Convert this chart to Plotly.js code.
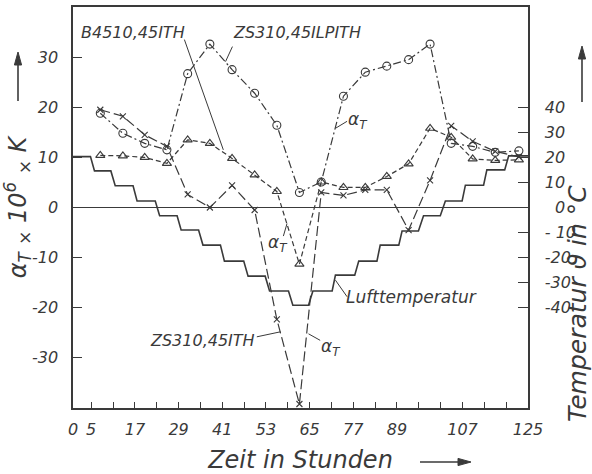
<!DOCTYPE html>
<html><head><meta charset="utf-8">
<script src="https://cdn.plot.ly/plotly-3.0.1.min.js"></script>
<style>html,body{margin:0;padding:0;background:#fff}#chart{width:592px;height:474px}</style>
</head><body><div id="chart"></div>
<script>
// Measurement times (hours)
const hours = [7.5, 13.7, 19.7, 25.8, 31.5, 37.6, 43.7, 49.9, 56.0, 62.2, 68.2, 74.3, 80.3, 86.2, 92.2, 98.1, 103.9, 109.8, 116.0, 122.5];
// alpha_T x 10^6 x K for the three specimens
const alphaZS310LPITH = [18.8, 14.8, 12.8, 11.5, 26.7, 32.6, 27.5, 22.8, 16.4, 3.0, 5.1, 22.2, 27.0, 28.2, 29.5, 32.6, 12.8, 12.2, 11.0, 11.3];
const alphaZS310ITH   = [19.5, 18.2, 14.5, 12.2, 2.6, 0.0, 4.4, -0.5, -22.3, -39.2, 3.0, 2.4, 3.5, 3.5, -4.5, 5.4, 16.3, 13.2, 11.2, 10.1];
const alphaB4510ITH   = [10.4, 10.3, 10.0, 8.8, 13.5, 12.8, 9.8, 6.5, 3.2, -11.3, 5.1, 4.0, 4.0, 6.2, 8.7, 15.8, 14.0, 9.7, 9.4, 9.5];
// Air temperature (deg C), held constant between start and end hour of each step
const airStart = [0, 5.9, 11.6, 17.6, 23.8, 29.7, 35.7, 41.6, 48.1, 54.0, 60.4, 65.9, 72.1, 78.5, 84.4, 90.4, 96.3, 102.3, 107.8, 113.7, 119.7];
const airEnd   = [4.8, 10.4, 16.5, 22.6, 28.6, 34.5, 40.5, 46.9, 52.8, 59.2, 64.7, 71.2, 77.4, 83.5, 89.5, 94.9, 100.9, 106.9, 112.8, 118.6, 125];
const airTemp  = [20.3, 14.6, 8.7, 2.6, -3.3, -9.0, -15.0, -21.4, -27.4, -33.3, -39.0, -33.3, -27.0, -21.4, -15.0, -9.4, -3.3, 2.6, 8.9, 15.0, 20.6];
// Tick labels
const xTickVals = [0, 5, 17, 29, 41, 53, 65, 77, 89, 107, 125];
const xTickText = ['0', '5', '17', '29', '41', '53', '65', '77', '89', '107', '125'];
const yTickVals = [-30, -20, -10, 0, 10, 20, 30];
const yTickText = ['-30', '-20', '-10', '0', '10', '20', '30'];
const y2TickVals = [-40, -30, -20, -10, 0, 10, 20, 30, 40];
const y2TickText = ['-40', '-30', '-20', '- 10', '\u20070', '10', '20', '30', '40'];

const INK = '#3a3a3a';
const FONT = 'DejaVu Sans';

const stepX = [], stepY = [];
airStart.forEach((s, i) => { stepX.push(s, airEnd[i]); stepY.push(airTemp[i], airTemp[i]); });

const traces = [
  {x: stepX, y: stepY, yaxis: 'y2', mode: 'lines', name: 'Lufttemperatur', line: {color: INK, width: 1.6}},
  {x: hours, y: alphaZS310LPITH, mode: 'lines+markers', name: 'ZS310,45ILPITH',
   line: {color: INK, width: 1.2, dash: '8px,3px,2px,3px'},
   marker: {symbol: 'circle-open', size: 8, color: INK, line: {width: 1.1, color: INK}}},
  {x: hours, y: alphaZS310ITH, mode: 'lines+markers', name: 'ZS310,45ITH',
   line: {color: INK, width: 1.2, dash: '10px,4px'},
   marker: {symbol: 'x-thin-open', size: 6, color: INK, line: {width: 1.1, color: INK}}},
  {x: hours, y: alphaB4510ITH, mode: 'lines+markers', name: 'B4510,45ITH',
   line: {color: INK, width: 1.2, dash: '5px,3px'},
   marker: {symbol: 'triangle-up-open', size: 8, color: INK, line: {width: 1.1, color: INK}}}
];

// plot area in pixels
const L = 73, R = 528, T = 7, B = 408;
const px = v => (v - L) / (R - L);
const py = v => (B - v) / (B - T);

const lab = (text, x, y, size) => ({text, x, y, xref: 'x', yref: 'y', showarrow: false,
  font: {family: FONT, size: size || 16, color: INK, style: 'italic'}});
const leader = (x0, y0, x1, y1) => ({type: 'line', xref: 'x', yref: 'y', x0, y0, x1, y1, line: {color: INK, width: 1}});
// arrow drawn from tail (x0,y0) to head (x1,y1), pixel positions
function arrowShapes(x0, y0, x1, y1) {
  const len = Math.hypot(x1 - x0, y1 - y0), ux = (x1 - x0) / len, uy = (y1 - y0) / len;
  const hl = 13, hw = 3.6;
  const bx = x1 - ux * hl, by = y1 - uy * hl;
  const p1 = [bx - uy * hw, by + ux * hw], p2 = [bx + uy * hw, by - ux * hw];
  return [
    {type: 'line', xref: 'paper', yref: 'paper', x0: px(x0), y0: py(y0), x1: px(bx), y1: py(by), line: {color: INK, width: 1.6}},
    {type: 'path', xref: 'paper', yref: 'paper', fillcolor: INK, line: {color: INK, width: 1},
     path: `M ${px(x1)} ${py(y1)} L ${px(p1[0])} ${py(p1[1])} L ${px(p2[0])} ${py(p2[1])} Z`}
  ];
}

const layout = {
  width: 592, height: 474, margin: {l: L, r: 592 - R, t: T, b: 474 - B},
  paper_bgcolor: '#fff', plot_bgcolor: '#fff', showlegend: false,
  font: {family: FONT, color: INK, style: 'italic'},
  xaxis: {range: [0, 125], tickmode: 'array', tickvals: xTickVals, ticktext: xTickText,
    ticks: 'inside', ticklen: 6, tickwidth: 1, tickcolor: INK,
    minor: {tickmode: 'linear', tick0: 5, dtick: 6, ticks: 'inside', ticklen: 6, tickwidth: 1, tickcolor: INK, showgrid: false},
    showline: true, mirror: true, linecolor: INK, linewidth: 1.6, showgrid: false, zeroline: false, ticklabelstandoff: 6,
    tickfont: {family: FONT, size: 16, color: INK, style: 'italic'},
    title: {text: 'Zeit in Stunden', standoff: 13, font: {family: FONT, size: 24, color: INK, style: 'italic'}}},
  yaxis: {range: [-40, 40], tickmode: 'array', tickvals: yTickVals, ticktext: yTickText,
    ticks: 'inside', ticklen: 9, tickwidth: 1, tickcolor: INK,
    showline: true, mirror: true, linecolor: INK, linewidth: 1.6,
    showgrid: false, zeroline: true, zerolinecolor: INK, zerolinewidth: 1.6, ticklabelstandoff: 10,
    tickfont: {family: FONT, size: 16, color: INK, style: 'italic'},
    title: {text: 'α<sub>T</sub> <sub>×</sub> 10<sup>6</sup> <sub>×</sub> K', standoff: 6, font: {family: FONT, size: 24, color: INK, style: 'italic'}}},
  yaxis2: {range: [-80, 80], overlaying: 'y', side: 'right', tickmode: 'array', tickvals: y2TickVals, ticktext: y2TickText,
    ticks: 'inside', ticklen: 10, tickwidth: 1, tickcolor: INK,
    showline: true, linecolor: INK, linewidth: 1.6, showgrid: false, zeroline: false, ticklabelstandoff: 12,
    tickfont: {family: FONT, size: 16, color: INK, style: 'italic'}},
  annotations: [
    lab('B4510,45ITH', 16.6, 34.9, 16), lab('ZS310,45ILPITH', 61.6, 34.9, 16),
    lab('α<sub>T</sub>', 78.3, 17.3, 17), lab('α<sub>T</sub>', 56.2, -7.2, 17),
    lab('Lufttemperatur', 93.1, -17.8, 17), lab('ZS310,45ITH', 35.7, -26.5, 16),
    lab('α<sub>T</sub>', 70.9, -28.0, 17),
    {text: 'Temperatur ϑ in °C', x: px(577), y: py(304), xref: 'paper', yref: 'paper', textangle: -90,
     xanchor: 'center', yanchor: 'middle', showarrow: false, font: {family: FONT, size: 25, color: INK, style: 'italic'}}
  ],
  shapes: [
    leader(30.6, 33.5, 41.3, 11.5), leader(43.8, 32.1, 41.9, 29.1), leader(75.3, 17.2, 72.1, 15.8),
    leader(57.8, -5.7, 58.8, -3.2), leader(75.3, -17.8, 72.1, -14.5), leader(50.5, -25.8, 57.0, -24.8),
    leader(67.9, -26.5, 64.7, -25.2),
    ...arrowShapes(420, 462, 471, 462), ...arrowShapes(18, 101, 18, 52), ...arrowShapes(582, 102, 582, 46)
  ]
};

Plotly.newPlot('chart', traces, layout, {displayModeBar: false, staticPlot: true});
</script>
</body></html>
